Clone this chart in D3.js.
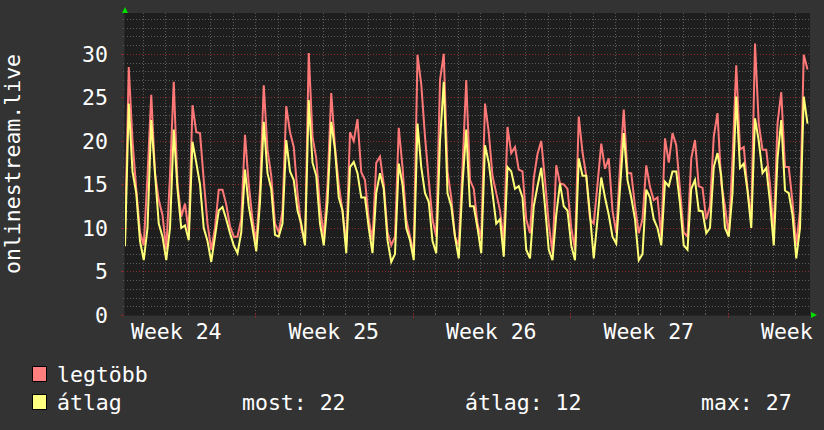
<!DOCTYPE html>
<html><head><meta charset="utf-8">
<script src="https://cdn.jsdelivr.net/npm/d3@7"></script>
<style>html,body{margin:0;padding:0;background:#333333;} svg{display:block;}</style>
</head><body>
<svg id="chart" width="824" height="430"></svg>
<script>
// ---------- data ----------
const axisTitle = "onlinestream.live";
const weekLabels = ["Week 24", "Week 25", "Week 26", "Week 27", "Week"];
const yTickValues = [0, 5, 10, 15, 20, 25, 30];
const seriesNames = ["legtöbb", "átlag"];
const legendStats = ["most: 22", "átlag: 12", "max: 27"];
// samples every 4 hours starting 2024-06-11 05:20
const maxValues = [
  9.0,28.5,20.0,14.5,9.5,8.0,16,25.3,16.3,13.2,11.5,7.5,16,26.8,15,11.3,12.8,9.5,24.1,21,
  20.9,15.5,10.5,7.5,10,14.4,14.4,12.7,10.2,9.0,9.0,11,20.7,15,11,8.4,14.5,26.4,19,16,
  10.5,9.5,12,24,21,19.3,14,10,8.2,30.1,20.5,18,12.5,9,15,25.5,19.3,15,12,8,
  21,20,22.5,16.4,15.5,11,8.6,17.5,18.2,15,9.5,8,9,21.5,17,11,9,7.1,29.9,26.5,
  20.5,15.5,11,9,27,30,16.5,13.5,9,8,17,27,15.5,14.5,10.5,8.8,24.3,21,16,14,
  12,8.5,21.6,18.6,19.3,16.7,16.5,11,9.4,15.7,18.5,20,15.5,10.5,7.1,17.2,15.1,15,14.5,10,
  7.5,22.8,18.7,16,11,10.5,15,19.7,16.8,18,12,9.4,17,23.6,16.3,16.3,12.5,9.4,11,17.2,
  14.7,13.2,13.5,9,20.3,17.5,20.9,19.5,14.4,9.5,9,18,20.1,14.8,14.6,11,12.5,20.5,23.2,15.1,
  12.5,9.1,18,28.7,19,19.3,14.5,11,31.2,22,19,19,15,9.5,22,25.6,17,17,13,8,
  12,29.9,28.2
];
const avgValues = [
  7.9,24.3,16.5,14,8.5,6.3,10,22.4,16.3,10.5,9.0,6.3,10,21.3,14.5,10,10.3,8.6,19.9,17.5,
  15,10,8.5,6.1,9,12,12.4,11,9.4,8,7.1,9.5,16.7,12.5,10,7.3,13,22.2,16.3,14.5,
  9.2,9,10.5,20.1,16.5,15.5,12,10.5,8,24.7,17.5,16,10.5,8,13,22.2,19,13.5,12,7.1,
  17,17.6,16.3,13.5,13.5,10,7.1,14,16.3,14.5,8.6,6.1,7,17.4,15,10,8.6,6.3,22,17,
  14,13,8.5,7.1,20,26.8,14,12.5,9,6.5,15,21.3,12.5,12.5,10,7.1,19.5,17.5,14,10.5,
  11,6.7,17,16.5,14.5,14.8,13.5,7.5,6.5,12.5,14.8,16.9,12.5,7.5,6.3,11.5,15.1,12.5,12,8,
  6.3,18,16,16,11.5,6.5,11,15.8,13.5,11.5,9,8.2,14.5,20.9,15.5,13.5,11,6.3,7,14.4,
  13.5,11,10,8,15.3,14.8,16.5,16.5,12.8,8,7.5,14.5,15.5,12,11.9,9.4,10,17,18.6,16,
  10,9,14,25.1,16.9,17.4,14.3,10,22.6,20,16.3,16.9,13,8,18,22.4,14.3,14,11.5,6.5,
  10,25.1,22
];

// ---------- layout ----------
const W = 824, H = 430;
const plot = {left: 124, right: 810, top: 13, bottom: 315};
const FONT = "'DejaVu Sans Mono', monospace";
const FS = 21.5;
const colors = {
  canvas: "#333333", back: "#1e1e1e", grid: "#5c5c5c", mgrid: "#8a2a2a",
  text: "#ffffff", max: "#ff7878", avg: "#ffff78", arrow: "#00dd00"
};
const legendColors = ["#ff7f7f", "#ffff80"];

const start = new Date(2024, 5, 11, 5, 20);
const end = new Date(2024, 6, 11, 16, 0);
const stepMs = 4 * 3600 * 1000;
const timeOf = i => new Date(start.getTime() + i * stepMs);

const x = d3.scaleTime().domain([start, end]).range([125, plot.right]);
const y = d3.scaleLinear().domain([0, 34.7]).range([plot.bottom, plot.top]);

const svg = d3.select("#chart");
svg.append("rect").attr("width", W).attr("height", H).attr("fill", colors.canvas);
svg.append("rect").attr("x", plot.left).attr("y", plot.top)
  .attr("width", plot.right - plot.left).attr("height", plot.bottom - plot.top)
  .attr("fill", colors.back);

const g = svg.append("g");

// minor horizontal grid
const minorY = d3.range(1, 35).filter(v => v % 5 !== 0);
g.selectAll(".mh").data(minorY).join("line")
  .attr("x1", plot.left).attr("x2", plot.right)
  .attr("y1", d => Math.round(y(d)) + 0.5).attr("y2", d => Math.round(y(d)) + 0.5)
  .attr("stroke", colors.grid).attr("stroke-dasharray", "1,2");
// vertical day grid (weeks drawn the same, with red ticks below)
const days = d3.timeDay.range(start, end);
const weeks = d3.timeMonday.range(start, end);
const weekSet = new Set(weeks.map(d => +d));
g.selectAll(".mv").data(days).join("line")
  .attr("x1", d => Math.round(x(d)) + 0.5).attr("x2", d => Math.round(x(d)) + 0.5)
  .attr("y1", plot.top).attr("y2", plot.bottom)
  .attr("stroke", colors.grid).attr("stroke-dasharray", "1,2");
// major horizontal
g.selectAll(".Mh").data(yTickValues.filter(v => v > 0)).join("line")
  .attr("x1", plot.left).attr("x2", plot.right)
  .attr("y1", d => Math.round(y(d)) + 0.5).attr("y2", d => Math.round(y(d)) + 0.5)
  .attr("stroke", colors.mgrid).attr("stroke-dasharray", "1,2");

// ticks on axes
g.selectAll(".ty").data(d3.range(0, 35)).join("line")
  .attr("x1", d => d % 5 === 0 ? plot.left - 3 : plot.left - 1).attr("x2", plot.left + 1)
  .attr("y1", d => Math.round(y(d)) + 0.5).attr("y2", d => Math.round(y(d)) + 0.5)
  .attr("stroke", d => d % 5 === 0 ? colors.mgrid : colors.grid);
g.selectAll(".tx").data(days).join("line")
  .attr("x1", d => Math.round(x(d)) + 0.5).attr("x2", d => Math.round(x(d)) + 0.5)
  .attr("y1", plot.bottom - 2).attr("y2", d => weekSet.has(+d) ? plot.bottom + 3 : plot.bottom + 1)
  .attr("stroke", d => weekSet.has(+d) ? colors.mgrid : colors.grid);

// clip
svg.append("clipPath").attr("id", "clip").append("rect")
  .attr("x", plot.left).attr("y", plot.top)
  .attr("width", plot.right - plot.left).attr("height", plot.bottom - plot.top);

const line = d3.line().x((d, i) => x(timeOf(i))).y(d => y(d));
const lg = svg.append("g").attr("clip-path", "url(#clip)");
lg.append("path").attr("d", line(maxValues)).attr("fill", "none")
  .attr("stroke", colors.max).attr("stroke-width", 2).attr("stroke-linejoin", "miter");
lg.append("path").attr("d", line(avgValues)).attr("fill", "none")
  .attr("stroke", colors.avg).attr("stroke-width", 2).attr("stroke-linejoin", "miter");

// axis lines
svg.append("line").attr("x1", plot.left + 0.5).attr("x2", plot.left + 0.5)
  .attr("y1", plot.top - 2).attr("y2", plot.bottom + 1).attr("stroke", "#262626");
svg.append("line").attr("x1", plot.left).attr("x2", plot.right + 2)
  .attr("y1", plot.bottom + 0.5).attr("y2", plot.bottom + 0.5).attr("stroke", "#262626");

// arrows
const ax = plot.left + 1;
svg.append("path").attr("d", `M${ax - 3},${plot.top} L${ax + 3},${plot.top} L${ax},${plot.top - 6} Z`)
  .attr("fill", colors.arrow);
svg.append("path").attr("d", `M${plot.right + 1},${plot.bottom - 3} L${plot.right + 1},${plot.bottom + 3} L${plot.right + 7},${plot.bottom} Z`)
  .attr("fill", colors.arrow);

// y tick labels
svg.selectAll(".yl").data(yTickValues).join("text")
  .attr("x", 108).attr("y", d => y(d) + 8)
  .attr("text-anchor", "end").attr("fill", colors.text)
  .attr("font-family", FONT).attr("font-size", FS)
  .text(d => d);

// x labels: 7-character labels centred at mid-week (left-anchored so the last one keeps its place)
const charW = FS * 0.602;
const weekStarts = d3.timeMonday.range(new Date(2024, 5, 10), new Date(2024, 6, 9));
svg.selectAll(".xl").data(weekStarts).join("text")
  .attr("x", d => x(new Date(d.getTime() + 3.5 * 86400000)) - 3.5 * charW)
  .attr("y", 338.5)
  .attr("text-anchor", "start").attr("fill", colors.text)
  .attr("font-family", FONT).attr("font-size", FS)
  .text((d, i) => weekLabels[i]);

// y title
svg.append("text").attr("transform", "translate(20,164) rotate(-90)")
  .attr("text-anchor", "middle").attr("fill", colors.text)
  .attr("font-family", FONT).attr("font-size", FS)
  .text(axisTitle);

// legend
const rows = [382, 410];
seriesNames.forEach((name, i) => {
  svg.append("rect").attr("x", 32.5).attr("y", rows[i] - 15.5).attr("width", 14).attr("height", 15)
    .attr("fill", legendColors[i]).attr("stroke", "#000").attr("stroke-width", 1);
  svg.append("text").attr("x", 57).attr("y", rows[i])
    .attr("fill", colors.text).attr("font-family", FONT).attr("font-size", FS)
    .text(name);
});
const statX = [242, 465, 701];
legendStats.forEach((s, i) => {
  svg.append("text").attr("x", statX[i]).attr("y", rows[1])
    .attr("fill", colors.text).attr("font-family", FONT).attr("font-size", FS)
    .text(s);
});
</script>
</body></html>
